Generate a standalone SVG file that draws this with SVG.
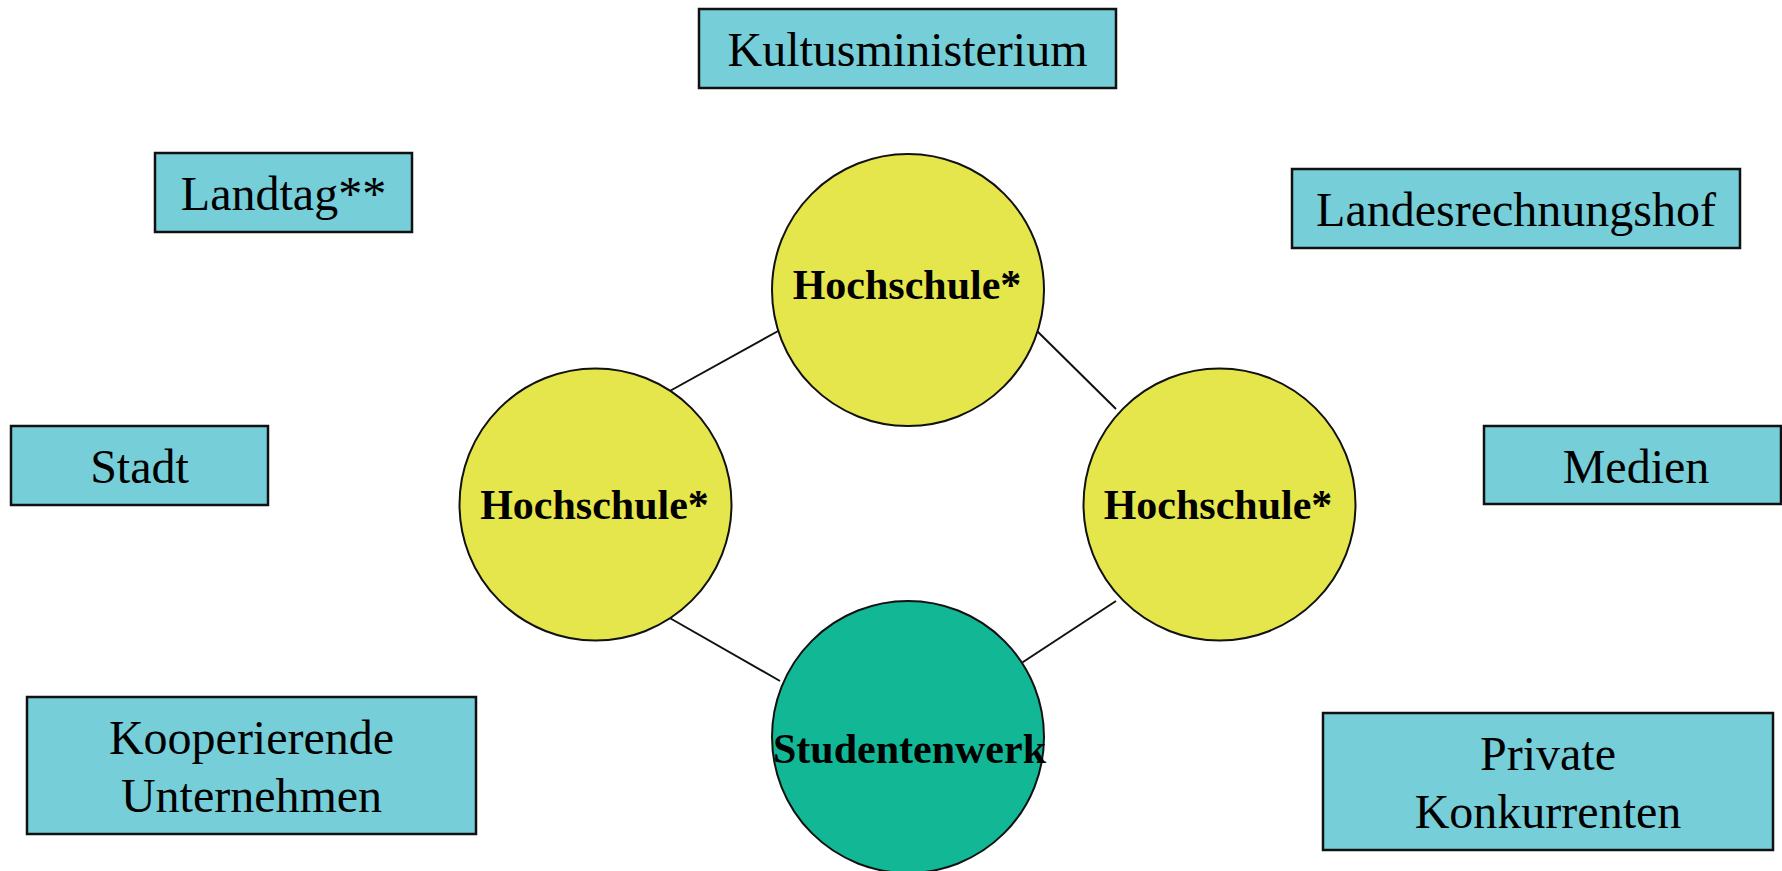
<svg xmlns="http://www.w3.org/2000/svg" width="1782" height="871" viewBox="0 0 1782 871">
<style>
.box{fill:#76CED8;stroke:#111;stroke-width:2.5}
.hs{fill:#E5E64B;stroke:#111;stroke-width:2}
.sw{fill:#12B896;stroke:#111;stroke-width:2}
.bt{font-family:"Liberation Serif",serif;font-size:48px;fill:#000;text-anchor:middle}
.ct{font-family:"Liberation Serif",serif;font-size:42px;font-weight:bold;fill:#000;text-anchor:middle}
.conn line{stroke:#111;stroke-width:2}
</style>
<rect width="1782" height="871" fill="#fff"/>
<g class="conn" id="connectors">
<line x1="668" y1="392" x2="780" y2="330"/>
<line x1="1035" y1="329" x2="1116" y2="409"/>
<line x1="668" y1="617" x2="780" y2="681"/>
<line x1="1116" y1="601" x2="1020" y2="664"/>
</g>
<g id="kultusministerium"><rect class="box" x="699" y="9" width="417" height="79"/><text class="bt" x="907.5" y="66">Kultusministerium</text></g>
<g id="landtag"><rect class="box" x="155" y="153" width="257" height="79"/><text class="bt" x="283.5" y="210">Landtag**</text></g>
<g id="landesrechnungshof"><rect class="box" x="1292" y="169" width="448" height="79"/><text class="bt" x="1516" y="226">Landesrechnungshof</text></g>
<g id="stadt"><rect class="box" x="11" y="426" width="257" height="79"/><text class="bt" x="139.5" y="483">Stadt</text></g>
<g id="medien"><rect class="box" x="1484" y="426" width="297" height="78"/><text class="bt" x="1636" y="483">Medien</text></g>
<g id="kooperierende"><rect class="box" x="27" y="697" width="449" height="137"/><text class="bt" x="251.5" y="754">Kooperierende</text><text class="bt" x="251.5" y="812">Unternehmen</text></g>
<g id="private"><rect class="box" x="1323" y="713" width="450" height="137"/><text class="bt" x="1548" y="770">Private</text><text class="bt" x="1548" y="828">Konkurrenten</text></g>
<g id="hochschule-top"><circle class="hs" cx="908" cy="290" r="136"/><text class="ct" x="907" y="299">Hochschule*</text></g>
<g id="hochschule-left"><circle class="hs" cx="595.5" cy="504.5" r="136"/><text class="ct" x="594.5" y="519">Hochschule*</text></g>
<g id="hochschule-right"><circle class="hs" cx="1219.5" cy="504.5" r="136"/><text class="ct" x="1218" y="519">Hochschule*</text></g>
<g id="studentenwerk"><circle class="sw" cx="908" cy="737" r="136"/><text class="ct" x="909.5" y="763">Studentenwerk</text></g>
</svg>
